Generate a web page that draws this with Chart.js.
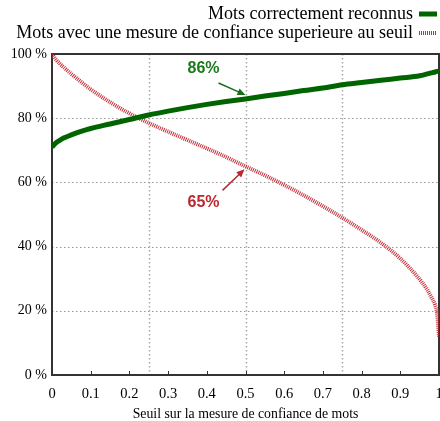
<!DOCTYPE html>
<html>
<head>
<meta charset="utf-8">
<script src="https://cdn.jsdelivr.net/npm/chart.js@4/dist/chart.umd.min.js"></script>
<style>
  html, body { margin: 0; padding: 0; background: #fff; overflow: hidden; width: 440px; height: 421px; }
  canvas { display: block; }
</style>
</head>
<body>
<canvas id="c" width="440" height="421"></canvas>
<script>
// Seuil sur la mesure de confiance (axe x)
const seuils = [0, 0.01, 0.02, 0.03, 0.05, 0.075, 0.1, 0.15, 0.2, 0.25, 0.3, 0.35, 0.4, 0.45, 0.5,
                0.55, 0.6, 0.65, 0.7, 0.75, 0.8, 0.85, 0.9, 0.95, 0.97, 0.98, 0.99, 0.995, 1];
// Pourcentage de mots correctement reconnus
const motsReconnus = [71, 72.3, 73.1, 73.8, 74.8, 75.9, 76.8, 78.2, 79.6, 81.0, 82.2, 83.3, 84.3, 85.2, 86,
                      86.9, 87.7, 88.6, 89.4, 90.4, 91.1, 91.8, 92.5, 93.2, 93.8, 94.1, 94.4, 94.6, 94.7];
// Pourcentage de mots dont la confiance depasse le seuil
const motsAuDessus = [100, 98.3, 97.0, 95.9, 93.8, 91.3, 89.0, 85.0, 81.5, 78.5, 75.8, 73.2, 70.6, 67.9, 65,
                      62.2, 59.2, 56.0, 52.6, 49.0, 45.2, 41.2, 36.3, 29.8, 26.5, 24.3, 21.8, 19.3, 12];

const xTicks = [0, 0.1, 0.2, 0.3, 0.4, 0.5, 0.6, 0.7, 0.8, 0.9, 1];
const yTicks = [0, 20, 40, 60, 80, 100];
const xGrid = [0.25, 0.5, 0.75];
const yGrid = [20, 40, 60, 80];

const seriesLabels = ['Mots correctement reconnus', 'Mots avec une mesure de confiance superieure au seuil'];
const xTitle = 'Seuil sur la mesure de confiance de mots';
const annotX = 0.5;

const GREEN = '#006400';
const RED = '#c4303a';
const SERIF = '"Liberation Serif", "DejaVu Serif", serif';
const SANS = '"Liberation Sans", Arial, sans-serif';

function points(ys) { return seuils.map((x, i) => ({ x: x, y: ys[i] })); }

// Grid, frame and inner tick marks
const framePlugin = {
  id: 'frame',
  beforeDatasetsDraw(chart) {
    const { ctx, chartArea: a, scales: { x, y } } = chart;
    ctx.save();
    ctx.strokeStyle = '#999';
    ctx.lineWidth = 1;
    ctx.setLineDash([1.5, 2.5]);
    yGrid.forEach(v => {
      const py = Math.round(y.getPixelForValue(v)) + 0.5;
      ctx.beginPath(); ctx.moveTo(a.left, py); ctx.lineTo(a.right, py); ctx.stroke();
    });
    ctx.strokeStyle = '#aaa';
    ctx.lineWidth = 1.5;
    xGrid.forEach(v => {
      const px = Math.round(x.getPixelForValue(v)) + 0.5;
      ctx.beginPath(); ctx.moveTo(px, a.top); ctx.lineTo(px, a.bottom); ctx.stroke();
    });
    ctx.setLineDash([]);
    ctx.strokeStyle = '#333';
    ctx.lineWidth = 1;
    xTicks.forEach(v => {
      const px = Math.round(x.getPixelForValue(v)) + 0.5;
      ctx.beginPath(); ctx.moveTo(px, a.bottom); ctx.lineTo(px, a.bottom - 4); ctx.stroke();
    });
    ctx.strokeStyle = '#333';
    ctx.lineWidth = 2;
    ctx.strokeRect(a.left, a.top, a.right - a.left, a.bottom - a.top);
    ctx.restore();
  }
};

// Series key in the upper right
const keyPlugin = {
  id: 'key',
  afterDraw(chart) {
    const { ctx } = chart;
    ctx.save();
    ctx.font = '18px ' + SERIF;
    ctx.fillStyle = '#000';
    ctx.textAlign = 'right';
    ctx.textBaseline = 'middle';
    const rows = [14, 33];
    chart.data.datasets.forEach((ds, i) => {
      ctx.fillText(ds.label, 413, rows[i]);
      ctx.strokeStyle = ds.borderColor;
      ctx.lineWidth = ds.borderWidth;
      ctx.setLineDash(ds.borderDash || []);
      ctx.beginPath(); ctx.moveTo(419, rows[i]); ctx.lineTo(437, rows[i]); ctx.stroke();
    });
    ctx.restore();
  }
};

function arrow(ctx, x1, y1, x2, y2, color) {
  const ang = Math.atan2(y2 - y1, x2 - x1);
  const len = 8, half = 3.5;
  ctx.strokeStyle = color; ctx.fillStyle = color; ctx.lineWidth = 1.5;
  ctx.beginPath();
  ctx.moveTo(x1, y1);
  ctx.lineTo(x2 - Math.cos(ang) * len * 0.8, y2 - Math.sin(ang) * len * 0.8);
  ctx.stroke();
  ctx.beginPath();
  ctx.moveTo(x2, y2);
  ctx.lineTo(x2 - Math.cos(ang) * len + Math.sin(ang) * half, y2 - Math.sin(ang) * len - Math.cos(ang) * half);
  ctx.lineTo(x2 - Math.cos(ang) * len - Math.sin(ang) * half, y2 - Math.sin(ang) * len + Math.cos(ang) * half);
  ctx.closePath();
  ctx.fill();
}

// Value callouts at the 0.5 threshold
const calloutPlugin = {
  id: 'callout',
  afterDatasetsDraw(chart) {
    const { ctx, scales: { x, y } } = chart;
    const idx = seuils.indexOf(annotX);
    const px = x.getPixelForValue(annotX);
    ctx.save();
    ctx.font = 'bold 16px ' + SANS;
    ctx.textAlign = 'center';
    ctx.textBaseline = 'middle';

    const g = motsReconnus[idx];
    const gy = y.getPixelForValue(g);
    arrow(ctx, px - 27, gy - 16, px, gy - 4, '#1a6e1a');
    ctx.fillStyle = '#1a7a1a';
    ctx.fillText(g + '%', px - 42, gy - 30);

    const r = motsAuDessus[idx];
    const ry = y.getPixelForValue(r);
    arrow(ctx, px - 23, ry + 24, px - 1, ry + 3, '#b8282e');
    ctx.fillStyle = '#b8282e';
    ctx.fillText(r + '%', px - 42, ry + 36);
    ctx.restore();
  }
};

new Chart(document.getElementById('c'), {
  type: 'line',
  data: {
    datasets: [
      {
        label: seriesLabels[0],
        data: points(motsReconnus),
        borderColor: GREEN,
        borderWidth: 5,
        pointRadius: 0,
        cubicInterpolationMode: 'monotone'
      },
      {
        label: seriesLabels[1],
        data: points(motsAuDessus),
        borderColor: RED,
        borderWidth: 4,
        borderDash: [1, 1],
        pointRadius: 0,
        cubicInterpolationMode: 'monotone'
      }
    ]
  },
  options: {
    responsive: false,
    animation: false,
    devicePixelRatio: 1,
    layout: { padding: { top: 54, left: 0, right: 1, bottom: 0 } },
    plugins: { legend: { display: false }, tooltip: { enabled: false } },
    scales: {
      x: {
        type: 'linear',
        min: 0, max: 1,
        afterBuildTicks: s => { s.ticks = xTicks.map(v => ({ value: v })); },
        afterFit: s => { s.height = 46; s.paddingLeft = 0; s.paddingRight = 0; },
        grid: { display: false, drawTicks: false },
        border: { display: false },
        ticks: {
          autoSkip: false, maxRotation: 0, padding: 10,
          color: '#000',
          font: { family: SERIF, size: 14.5 },
          callback: v => String(v)
        },
        title: {
          display: true, text: xTitle, color: '#000',
          font: { family: SERIF, size: 13.8 },
          padding: { top: 0, bottom: -2 }
        }
      },
      y: {
        min: 0, max: 100,
        afterBuildTicks: s => { s.ticks = yTicks.map(v => ({ value: v })); },
        afterFit: s => { s.width = 52; s.paddingTop = 0; s.paddingBottom = 0; },
        grid: { display: false, drawTicks: false },
        border: { display: false },
        ticks: {
          padding: 5, color: '#000',
          font: { family: SERIF, size: 14 },
          callback: v => v + ' %'
        }
      }
    }
  },
  plugins: [framePlugin, calloutPlugin, keyPlugin]
});
</script>
</body>
</html>
